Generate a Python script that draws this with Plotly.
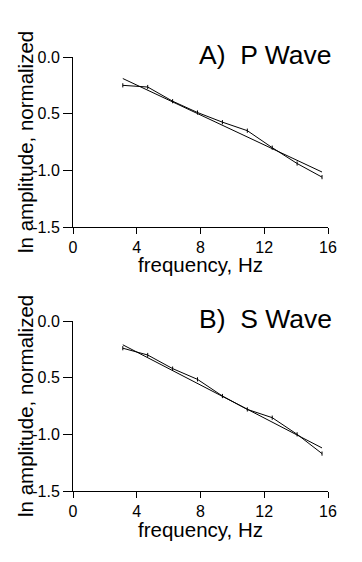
import plotly.graph_objects as go

# Page body has an 8px margin: the figure is drawn 8px in from the top-left corner.
OFF = 8
W, H = 362 - OFF, 562 - OFF

# Frequencies (Hz)
freq = [3.125, 4.6875, 6.25, 7.8125, 9.375, 10.9375, 12.5, 14.0625, 15.625]

# Panel A: P wave
p_data = [-0.25, -0.265, -0.39, -0.49, -0.575, -0.65, -0.80, -0.94, -1.06]
p_fit_x = [3.125, 15.625]
p_fit_y = [-0.19, -1.015]

# Panel B: S wave
s_data = [-0.24, -0.30, -0.42, -0.515, -0.662, -0.78, -0.853, -1.00, -1.17]
s_fit_x = [3.125, 15.625]
s_fit_y = [-0.21, -1.12]

x_ticks = [0, 4, 8, 12, 16]
y_tickvals = [0, -0.5, -1.0, -1.5]
y_ticktext = ["0.0", "0.5", "-1.0", "-1.5"]

titles = ["A)  P Wave", "B)  S Wave"]
xlabel = "frequency, Hz"
ylabel = "ln amplitude, normalized"

FONT = "Liberation Sans, Arial, sans-serif"
TICKFONT = "Liberation Sans Narrow, Arial Narrow, Liberation Sans, sans-serif"


def px_x(p):
    return (p - OFF) / W


def px_y(p):
    return 1 - (p - OFF) / H


fig = go.Figure()

panels = [
    dict(data=p_data, fx=p_fit_x, fy=p_fit_y, top=57, bot=227),
    dict(data=s_data, fx=s_fit_x, fy=s_fit_y, top=321, bot=491),
]

for i, pnl in enumerate(panels):
    xa = "x" if i == 0 else "x2"
    ya = "y" if i == 0 else "y2"
    fig.add_trace(go.Scatter(x=pnl["fx"], y=pnl["fy"], mode="lines",
                             line=dict(color="black", width=1),
                             xaxis=xa, yaxis=ya, showlegend=False))
    fig.add_trace(go.Scatter(x=freq, y=pnl["data"], mode="lines+markers",
                             line=dict(color="black", width=1),
                             marker=dict(symbol="line-ns", size=3,
                                         line=dict(color="black", width=1)),
                             xaxis=xa, yaxis=ya, showlegend=False))

axis_common_x = dict(range=[0, 16], tickvals=x_ticks, ticks="outside", ticklen=6,
                     tickwidth=1, tickcolor="black", showline=True, linecolor="black",
                     linewidth=1, showgrid=False, zeroline=False, automargin=False,
                     tickfont=dict(family=TICKFONT, size=16, color="black"))
axis_common_y = dict(range=[-1.5, 0], tickvals=y_tickvals, ticktext=y_ticktext,
                     ticks="outside", ticklen=9, tickwidth=1, tickcolor="black",
                     showline=True, linecolor="black", linewidth=1, showgrid=False,
                     zeroline=False, automargin=False,
                     tickfont=dict(family=TICKFONT, size=16, color="black"))

xdom = [px_x(73), px_x(328)]
layout = dict(
    template="none",
    width=W, height=H, margin=dict(l=0, r=0, t=0, b=0, pad=0), autosize=False,
    paper_bgcolor="white", plot_bgcolor="white",
    xaxis=dict(domain=xdom, anchor="y", **axis_common_x),
    yaxis=dict(domain=[px_y(227), px_y(57)], anchor="x", **axis_common_y),
    xaxis2=dict(domain=xdom, anchor="y2", **axis_common_x),
    yaxis2=dict(domain=[px_y(491), px_y(321)], anchor="x2", **axis_common_y),
)
fig.update_layout(**layout)

annotations = []
for i, pnl in enumerate(panels):
    top, bot = pnl["top"], pnl["bot"]
    annotations.append(dict(text=titles[i], xref="paper", yref="paper",
                            x=px_x(334), y=px_y(top - 2), xanchor="right", yanchor="middle",
                            showarrow=False, font=dict(family=FONT, size=26.5, color="black")))
    annotations.append(dict(text=xlabel, xref="paper", yref="paper",
                            x=px_x(200.5), y=px_y(bot + 38), xanchor="center", yanchor="middle",
                            showarrow=False, font=dict(family=FONT, size=20.5, color="black")))
    annotations.append(dict(text=ylabel, xref="paper", yref="paper",
                            x=px_x(25), y=px_y((top + bot) / 2), xanchor="center",
                            yanchor="middle", textangle=-90,
                            showarrow=False, font=dict(family=FONT, size=20.5, color="black")))
fig.update_layout(annotations=annotations)

fig.write_html("out.html")
